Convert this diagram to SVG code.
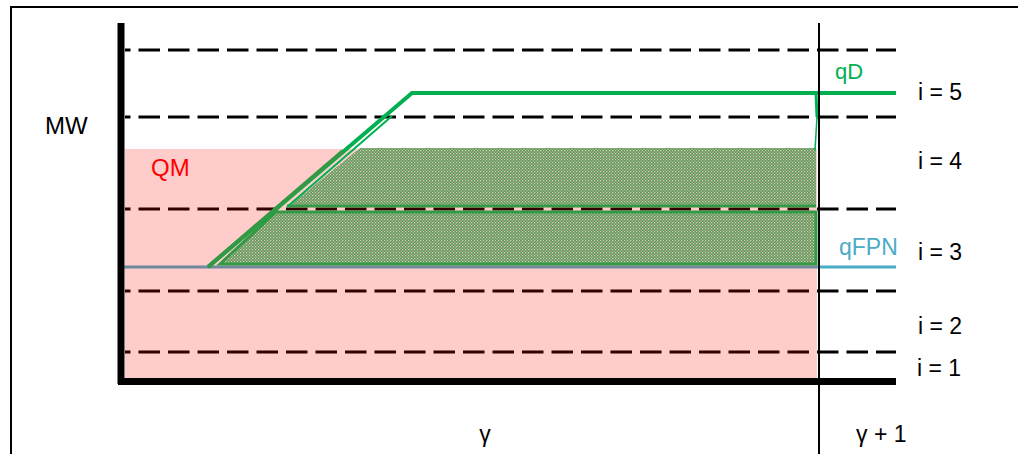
<svg xmlns="http://www.w3.org/2000/svg" width="1018" height="454" viewBox="0 0 1018 454">
<style>
.dash{stroke:#000;stroke-width:3;stroke-dasharray:21.5 8;fill:none}
.lbl{font-family:"Liberation Sans",Arial,sans-serif;font-size:23px;fill:#000}
</style>
<defs>
<pattern id="hatch" width="3" height="3" patternUnits="userSpaceOnUse">
<rect width="3" height="3" fill="#5a9a58"/>
<rect x="0" y="0" width="1.2" height="1.2" fill="#ecccc2"/>
<rect x="1.5" y="1.5" width="1.2" height="1.2" fill="#e0c4b8"/>
</pattern>
</defs>
<rect width="1018" height="454" fill="#fff"/>
<g id="frame" fill="none" stroke="#000" stroke-width="2">
<line x1="10" y1="7" x2="1018" y2="7"/>
<line x1="11" y1="6" x2="11" y2="454"/>
</g>
<g id="grid">
<line class="dash" x1="125" y1="50" x2="896" y2="50" stroke-dashoffset="16"/>
<line class="dash" x1="125" y1="117" x2="896" y2="117" stroke-dashoffset="16"/>
<line class="dash" x1="125" y1="209" x2="896" y2="209" stroke-dashoffset="16"/>
<line class="dash" x1="125" y1="291" x2="896" y2="291" stroke-dashoffset="16"/>
<line class="dash" x1="125" y1="352" x2="896" y2="352" stroke-dashoffset="16"/>
</g>
<g id="qFPN">
<line x1="123" y1="267" x2="896" y2="267" stroke="#4BACC6" stroke-width="3"/>
<text x="839" y="255" class="lbl" style="fill:#4BACC6">qFPN</text>
</g>
<g id="QM">
<rect x="125" y="149" width="692" height="230" fill="#ff0000" fill-opacity="0.2"/>
<text x="151" y="176" class="lbl" style="fill:#ff0000;font-size:24px">QM</text>
</g>
<g id="hatched">
<polygon points="289,206 360,148 816,148 816,206" fill="url(#hatch)"/>
<line x1="287" y1="206" x2="816" y2="206" stroke="#339944" stroke-width="3"/>
<polygon points="220,264 276,212 816,212 816,264" fill="url(#hatch)" stroke="#339944" stroke-width="3"/>
</g>
<g id="qD">
<polyline points="208,267 412,93 896,93" fill="none" stroke="#00B050" stroke-width="4"/>
<line x1="287" y1="207" x2="392" y2="116" stroke="#00B050" stroke-width="2"/>
<line x1="816" y1="93" x2="817" y2="117" stroke="#00B050" stroke-width="3"/>
<line x1="817" y1="117" x2="815" y2="150" stroke="#00B050" stroke-width="1.5"/>
<line x1="208" y1="267" x2="343" y2="151" stroke="#339944" stroke-width="4"/>
<text x="835" y="79" class="lbl" style="fill:#00B050;font-size:22px">qD</text>
</g>
<g id="axes" stroke="#000">
<line x1="121" y1="23" x2="121" y2="384" stroke-width="7"/>
<line x1="118" y1="381.5" x2="896" y2="381.5" stroke-width="7"/>
<line x1="819" y1="23" x2="819" y2="454" stroke-width="2"/>
</g>
<g id="labels">
<text x="45" y="134" class="lbl" style="font-size:24px">MW</text>
<text x="918" y="100" class="lbl">i = 5</text>
<text x="918" y="169" class="lbl">i = 4</text>
<text x="918" y="260" class="lbl">i = 3</text>
<text x="918" y="334" class="lbl">i = 2</text>
<text x="917" y="376" class="lbl">i = 1</text>
<text x="485" y="442" class="lbl" text-anchor="middle">γ</text>
<text x="856" y="442" class="lbl">γ + 1</text>
</g>
</svg>
